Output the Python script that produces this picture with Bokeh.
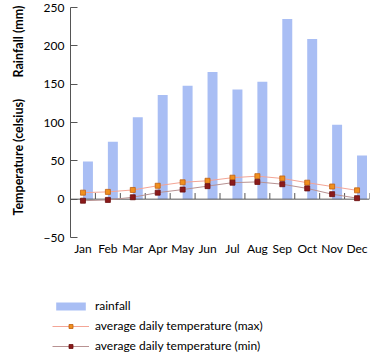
from bokeh.plotting import figure
from bokeh.models import ColumnDataSource, Range1d, FactorRange, Legend, LegendItem, FixedTicker
from bokeh.transform import dodge
from bokeh.embed import file_html
from bokeh.resources import INLINE

months = ["Jan", "Feb", "Mar", "Apr", "May", "Jun", "Jul", "Aug", "Sep", "Oct", "Nov", "Dec"]
rainfall = [49, 75, 107, 136, 148, 166, 143, 153, 235, 209, 97, 57]
temp_max = [8.5, 9.5, 12, 17.5, 22, 24, 28, 30, 27, 21.5, 16.5, 11.5]
temp_min = [-2, -1, 2.5, 8.5, 12.5, 17, 21.5, 22.5, 19.5, 14, 6.5, 1.3]
y_ticks = [-50, 0, 50, 100, 150, 200, 250]
y_title_lower = "Temperature (celsius)"
y_title_upper = "Rainfall (mm)"
legend_labels = ["rainfall", "average daily temperature (max)", "average daily temperature (min)"]

FONT = "Lato"
NBSP = "\u00a0"

BAR_C = "#A9BEF4"
MAX_LINE, MAX_FILL, MAX_EDGE = "#F4A596", "#F0901E", "#C06010"
MIN_LINE, MIN_FILL, MIN_EDGE = "#B89292", "#8B1A1A", "#6B0F0F"

src = ColumnDataSource(dict(months=months, rainfall=rainfall, tmax=temp_max, tmin=temp_min,
                            zero=[0] * len(months), tick_top=[8] * len(months)))

p = figure(width=370, height=258, x_range=FactorRange(*months, range_padding=0),
           y_range=Range1d(-50, 250), output_backend="svg", toolbar_location=None,
           min_border_left=70, min_border_right=1, min_border_top=7, min_border_bottom=20)
p.outline_line_color = None
p.xgrid.grid_line_color = None
p.ygrid.grid_line_color = None

p.vbar(x=dodge("months", 0.2, range=p.x_range), top="rainfall", width=0.4, source=src,
       fill_color=BAR_C, line_color=None)

# zero line with ticks between categories
p.segment(x0=dodge("months", -0.5, range=p.x_range), x1=dodge("months", 0.5, range=p.x_range),
          y0="zero", y1="zero", source=src, line_color="#555555", line_width=1)
p.segment(x0=dodge("months", 0.5, range=p.x_range), x1=dodge("months", 0.5, range=p.x_range),
          y0="zero", y1="tick_top", source=src, line_color="#555555", line_width=1)

p.line(x="months", y="tmax", source=src, line_color=MAX_LINE, line_width=1)
p.scatter(x="months", y="tmax", source=src, marker="square", size=5,
          fill_color=MAX_FILL, line_color=MAX_EDGE, line_width=0.8)
p.line(x="months", y="tmin", source=src, line_color=MIN_LINE, line_width=1)
p.scatter(x="months", y="tmin", source=src, marker="square", size=5,
          fill_color=MIN_FILL, line_color=MIN_EDGE, line_width=0.8)

p.yaxis.ticker = FixedTicker(ticks=y_ticks)
p.yaxis.major_tick_in = 7
p.yaxis.major_tick_out = 0
p.yaxis.minor_tick_line_color = None
p.yaxis.axis_line_color = "#555555"
p.yaxis.major_tick_line_color = "#555555"
p.yaxis.major_label_text_font = FONT
p.yaxis.major_label_text_font_size = "12px"
p.yaxis.major_label_text_color = "#000000"
p.yaxis.major_label_standoff = 6
p.yaxis.axis_label = NBSP * 8 + y_title_lower + NBSP * 7 + y_title_upper
p.yaxis.axis_label_text_font = FONT
p.yaxis.axis_label_text_font_size = "12.5px"
p.yaxis.axis_label_text_font_style = "bold"
p.yaxis.axis_label_text_color = "#000000"
p.yaxis.axis_label_standoff = 15

p.xaxis.axis_line_color = None
p.xaxis.major_tick_line_color = None
p.xaxis.major_tick_out = 0
p.xaxis.major_tick_in = 0
p.xaxis.minor_tick_line_color = None
p.xaxis.major_label_text_font = FONT
p.xaxis.major_label_text_font_size = "12px"
p.xaxis.major_label_text_color = "#000000"
p.xaxis.major_label_standoff = 3

# legend panel (same data, kept out of view; only the legend is shown)
q = figure(width=370, height=96, x_range=FactorRange(*months), y_range=Range1d(1000, 1001),
           output_backend="svg", toolbar_location=None, x_axis_location=None, y_axis_location=None,
           min_border=0)
q.outline_line_color = None
q.xgrid.grid_line_color = None
q.ygrid.grid_line_color = None
r_bar = q.vbar(x="months", top="rainfall", width=0.4, source=src, fill_color=BAR_C, line_color=None)
r_lmax = q.line(x="months", y="tmax", source=src, line_color=MAX_LINE, line_width=1)
r_smax = q.scatter(x="months", y="tmax", source=src, marker="square", size=4,
                   fill_color=MAX_FILL, line_color=MAX_EDGE, line_width=0.8)
r_lmin = q.line(x="months", y="tmin", source=src, line_color=MIN_LINE, line_width=1)
r_smin = q.scatter(x="months", y="tmin", source=src, marker="square", size=4,
                   fill_color=MIN_FILL, line_color=MIN_EDGE, line_width=0.8)

legend = Legend(items=[LegendItem(label=legend_labels[0], renderers=[r_bar]),
                       LegendItem(label=legend_labels[1], renderers=[r_lmax, r_smax]),
                       LegendItem(label=legend_labels[2], renderers=[r_lmin, r_smin])],
                location=(52, 1), orientation="vertical", border_line_color=None,
                background_fill_alpha=0, padding=0, margin=0, spacing=5,
                glyph_width=37, glyph_height=10, label_height=10, label_standoff=6,
                label_text_font=FONT, label_text_font_size="12px", label_text_color="#000000")
q.add_layout(legend, "center")

open("out.html", "w").write(file_html([p, q], INLINE))
